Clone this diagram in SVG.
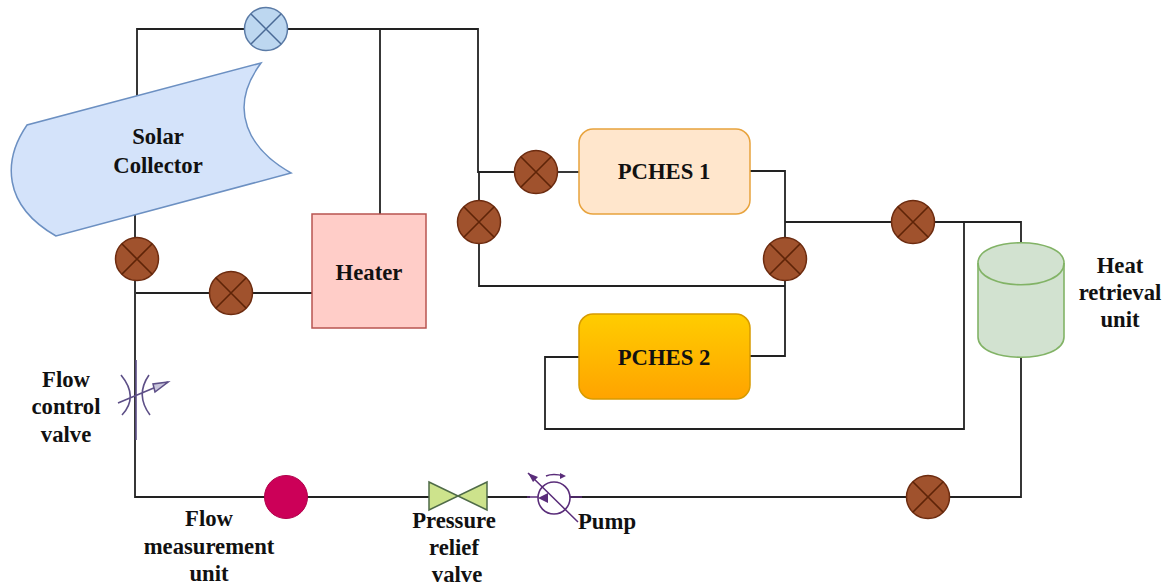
<svg xmlns="http://www.w3.org/2000/svg" width="1164" height="588" viewBox="0 0 1164 588">
<defs>
<linearGradient id="g2" x1="0" y1="0" x2="0" y2="1"><stop offset="0" stop-color="#ffcd00"/><stop offset="1" stop-color="#ffa300"/></linearGradient>
<g id="valve"><circle r="21.5" fill="#a0522d" stroke="#6d2c10" stroke-width="1.5"/><path d="M-15.2-15.2L15.2 15.2M-15.2 15.2L15.2-15.2" stroke="#5e2408" stroke-width="1.6" fill="none"/></g>
</defs>
<style>
.w{fill:none;stroke:#222;stroke-width:1.8}
.l{font-family:"Liberation Serif",serif;font-weight:bold;font-size:22.7px;fill:#111;text-anchor:middle}
.p{fill:none;stroke:#5d4f87;stroke-width:1.6}
</style>
<rect width="1164" height="588" fill="#fff"/>
<g id="connectors">
<path class="w" d="M137 97V29H478V172H536"/>
<path class="w" d="M380 29V214"/>
<path class="w" d="M135 215V497H430"/>
<path class="w" d="M136 293H312"/>
<path class="w" d="M479 172V286H785"/>
<path class="w" d="M558 172H579"/>
<path class="w" d="M750 171H785V356L750 356"/>
<path class="w" d="M785 222H1021V243"/>
<path class="w" d="M964 221V429H545V357H579"/>
<path class="w" d="M1021 356V497H555"/>
<path class="w" d="M487 497H530"/>
</g>
<g id="solar-collector"><path d="M261 63C226 110 250 150 291 173L56 236C2 205 3 160 27 125Z" fill="#d4e3fa" stroke="#6c90c2" stroke-width="1.5"/><text class="l" x="158" y="144">Solar</text><text class="l" x="158" y="173">Collector</text></g>
<g id="top-valve"><circle cx="266" cy="29" r="21.5" fill="#bdd7f0" stroke="#5b7ba6" stroke-width="1.5"/><path d="M251 14L281 44M251 44L281 14" stroke="#4a6a96" stroke-width="1.5"/></g>
<g id="valve-1"><use href="#valve" x="137" y="259"/></g>
<g id="valve-2"><use href="#valve" x="231" y="293"/></g>
<g id="valve-3"><use href="#valve" x="479" y="222"/></g>
<g id="valve-4"><use href="#valve" x="536" y="172"/></g>
<g id="valve-5"><use href="#valve" x="785" y="259"/></g>
<g id="valve-6"><use href="#valve" x="913" y="222"/></g>
<g id="valve-7"><use href="#valve" x="928" y="497"/></g>
<g id="heater"><rect x="312" y="214" width="114" height="114" fill="#ffcdc8" stroke="#b85450" stroke-width="1.5"/><text class="l" x="369" y="280">Heater</text></g>
<g id="pches1"><rect x="579" y="129" width="171" height="85" rx="14" fill="#ffe6cc" stroke="#e8a33d" stroke-width="1.5"/><text class="l" x="664" y="179">PCHES 1</text></g>
<g id="pches2"><rect x="579" y="314" width="171" height="85" rx="14" fill="url(#g2)" stroke="#d79b00" stroke-width="1.5"/><text class="l" x="664" y="365">PCHES 2</text></g>
<g id="heat-retrieval"><path d="M978 263C978 236 1064 236 1064 263V337C1064 364 978 364 978 337Z" fill="#d2e2d0" stroke="#82b366" stroke-width="1.6"/><path d="M978 263C978 292 1064 292 1064 263" fill="none" stroke="#82b366" stroke-width="1.6"/><text class="l" x="1120" y="273">Heat</text><text class="l" x="1120" y="300">retrieval</text><text class="l" x="1120" y="327">unit</text></g>
<g id="flow-control"><path class="p" d="M136 360V440M121 375Q139 397 122 415M149 375Q135 395 150 415M118 403L168 382"/><path d="M168 382L153 384L155 392Z" fill="#c9c6dc" stroke="#5d4f87" stroke-width="1.5"/><text class="l" x="66" y="387">Flow</text><text class="l" x="66" y="414">control</text><text class="l" x="66" y="442">valve</text></g>
<g id="flow-measure"><circle cx="286" cy="497" r="21.5" fill="#cc0058" stroke="#b0004a"/><text class="l" x="209" y="526">Flow</text><text class="l" x="209" y="554">measurement</text><text class="l" x="209" y="581">unit</text></g>
<g id="pressure-relief"><path d="M429 482L487 510V482L429 510Z" fill="#cde38c" stroke="#4f6b48" stroke-width="1.5"/><text class="l" x="454" y="528">Pressure</text><text class="l" x="454" y="555">relief</text><text class="l" x="457" y="582">valve</text></g>
<g id="pump"><circle cx="554" cy="498" r="16" fill="#fff" stroke="#5a2d7a" stroke-width="1.6"/><path d="M527 497H538M570 497H582" stroke="#5a2d7a" stroke-width="1.6"/><path d="M538 498L548 493V503Z" fill="#5a2d7a"/><path d="M528 473L578 522M546 476Q553 473 564 476" fill="none" stroke="#5a2d7a" stroke-width="1.5"/><path d="M528 473L538 477L533 482ZM566 476L560 473V479Z" fill="#5a2d7a"/><text class="l" x="607" y="529">Pump</text></g>
</svg>
